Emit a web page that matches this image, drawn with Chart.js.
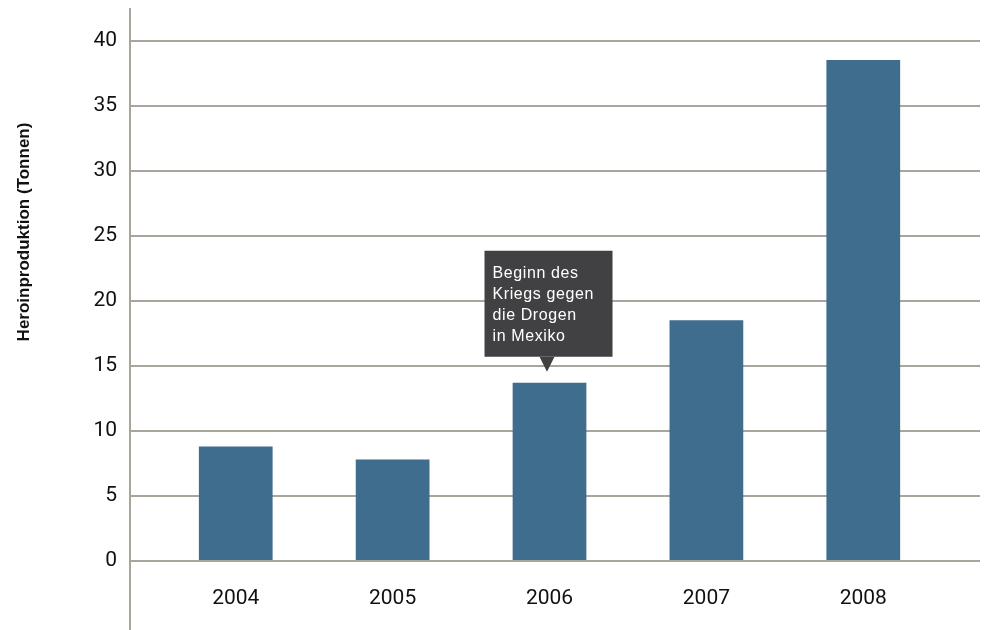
<!DOCTYPE html>
<html>
<head>
<meta charset="utf-8">
<script src="https://cdn.jsdelivr.net/npm/chart.js@4.4.1/dist/chart.umd.min.js"></script>
<style>
  html, body { margin: 0; padding: 0; background: #fff; }
  #wrap { width: 990px; height: 630px; }
</style>
</head>
<body>
<div id="wrap"><canvas id="heroinChart"></canvas></div>
<script>
// data
const years = [2004, 2005, 2006, 2007, 2008];
const tonnes = [8.8, 7.8, 13.7, 18.5, 38.5];
const yTicks = [0, 5, 10, 15, 20, 25, 30, 35, 40];
const yTitle = 'Heroinproduktion (Tonnen)';
const noteYear = 2006;
const noteLines = ['Beginn des', 'Kriegs gegen', 'die Drogen', 'in Mexiko'];

const gridColor = 'rgba(112, 104, 90, 0.6)';

// vertical axis line from the top of the plot down to the canvas bottom, plus the axis title
const axisLine = {
    id: 'axisLine',
    afterDraw(chart) {
        const ctx = chart.ctx;
        const x = chart.chartArea.left;
        ctx.save();
        ctx.strokeStyle = '#aaa59b';
        ctx.lineWidth = 2;
        ctx.beginPath();
        ctx.moveTo(x, chart.chartArea.top);
        ctx.lineTo(x, chart.height);
        ctx.stroke();

        ctx.translate(24, 232);
        ctx.rotate(-Math.PI / 2);
        ctx.fillStyle = '#111';
        ctx.font = 'bold 17px "Liberation Sans", Arial, sans-serif';
        ctx.textAlign = 'center';
        ctx.textBaseline = 'middle';
        ctx.fillText(yTitle, 0, 0);
        ctx.restore();
    }
};

// callout over the 2006 bar
const callout = {
    id: 'callout',
    afterDraw(chart) {
        const ctx = chart.ctx;
        const i = years.indexOf(noteYear);
        const cx = chart.scales.x.getPixelForValue(noteYear) - 2.5;
        const top = chart.scales.y.getPixelForValue(tonnes[i]);
        const tipY = top - 11;
        const boxBottom = tipY - 15;
        const boxLeft = cx - 62.5;
        const boxW = 128, boxH = 106;
        ctx.save();
        ctx.fillStyle = '#414042';
        ctx.fillRect(boxLeft, boxBottom - boxH, boxW, boxH);
        ctx.beginPath();
        ctx.moveTo(cx - 7.5, boxBottom);
        ctx.lineTo(cx + 7.5, boxBottom);
        ctx.lineTo(cx, tipY);
        ctx.closePath();
        ctx.fill();
        ctx.fillStyle = '#ffffff';
        ctx.font = '16px "Liberation Sans", Arial, sans-serif';
        ctx.letterSpacing = '0.6px';
        ctx.textBaseline = 'middle';
        noteLines.forEach((line, k) => {
            ctx.fillText(line, boxLeft + 8, boxBottom - boxH + 23 + k * 21);
        });
        ctx.restore();
    }
};

const ctx = document.getElementById('heroinChart').getContext('2d');
new Chart(ctx, {
    type: 'bar',
    data: {
        datasets: [{
            data: years.map((y, i) => ({ x: y, y: tonnes[i] })),
            backgroundColor: '#3e6d8d',
            barPercentage: 0.47,
            categoryPercentage: 1
        }]
    },
    options: {
        responsive: true,
        maintainAspectRatio: false,
        animation: false,
        layout: { padding: { top: 8, right: 10, bottom: 0, left: 0 } },
        plugins: {
            legend: { display: false },
            tooltip: { enabled: false }
        },
        scales: {
            x: {
                type: 'linear',
                offset: false,
                min: 2003.326,
                max: 2008.744,
                grid: { display: false, drawTicks: false },
                border: { display: false },
                afterBuildTicks: (scale) => { scale.ticks = years.map(v => ({ value: v })); },
                afterFit: (scale) => {
                    scale.height = 69;
                    scale.paddingLeft = 0;
                    scale.paddingRight = 0;
                },
                ticks: {
                    padding: 25,
                    maxRotation: 0,
                    color: '#111',
                    font: { family: 'Roboto', size: 21 },
                    callback: (v) => String(v)
                }
            },
            y: {
                min: 0,
                max: 42.5,
                z: 1,
                afterFit: (scale) => {
                    scale.width = 130;
                    scale.paddingTop = 0;
                    scale.paddingBottom = 0;
                },
                afterBuildTicks: (scale) => { scale.ticks = yTicks.map(v => ({ value: v })); },
                grid: { color: gridColor, lineWidth: 2, drawTicks: false },
                border: { display: false },
                ticks: {
                    padding: 13,
                    color: '#111',
                    font: { family: 'Roboto', size: 21 }
                }
            }
        }
    },
    plugins: [axisLine, callout]
});
</script>
</body>
</html>
